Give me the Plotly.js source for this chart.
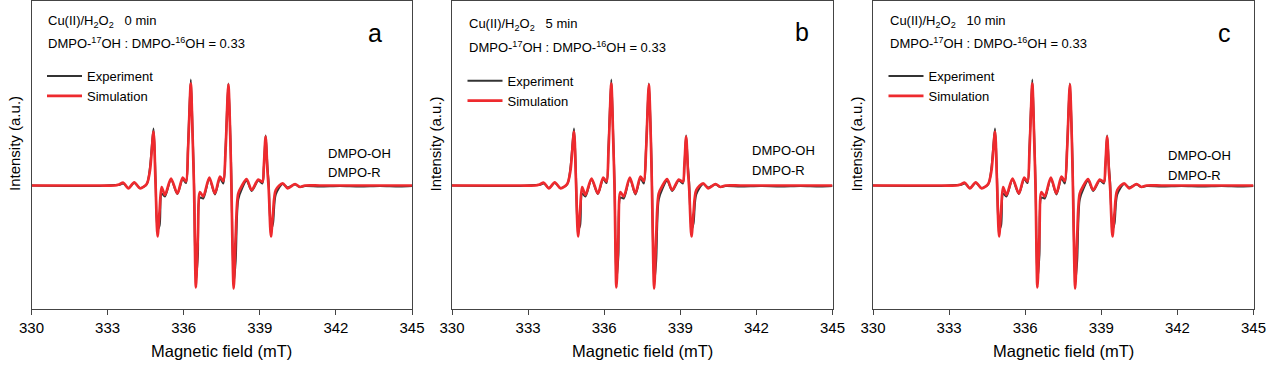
<!DOCTYPE html>
<html>
<head>
<meta charset="utf-8">
<script src="https://cdn.plot.ly/plotly-3.0.1.min.js"></script>
<style>html,body{margin:0;padding:0;background:#fff}#chart{width:1270px;height:366px}</style>
</head>
<body>
<div id="chart"></div>
<script>
// Magnetic field (mT), shared sampling grid
var field = [330.00,332.70,333.29,333.45,333.62,333.82,334.05,334.28,334.54,334.67,334.81,334.89,334.97,335.05,335.13,335.26,335.50,335.75,335.96,336.09,336.17,336.28,336.35,336.41,336.48,336.56,336.64,336.77,337.01,337.23,337.43,337.56,337.65,337.76,337.84,337.88,337.97,338.05,338.15,338.30,338.48,338.68,338.94,339.10,339.16,339.23,339.30,339.35,339.44,339.52,339.63,339.90,340.10,340.39,340.58,340.78,341.37,342.16,342.95,343.74,344.52,345.00];

var simA = [0,0,0,1,2.8,-2.8,3.2,-2.8,1.5,15,54,2,-51,-25,-1.5,-9.5,7,-8,8,4,35,102,50,-5,-102,-50,-6.5,-11,8,-8,9,4.5,35,101,45,0,-103,-50,-8,0,6.5,-4.5,6,3.5,20,49,15,-3,-51,-28,-4.5,2.2,-2.8,1.5,-1.5,0,0,0,0,0,0,0];
var expA = [0,-0.5,0.5,0.5,2,-2.5,2.5,-2.5,1,18,57,8,-44,-40,-8,-11,6,-8.5,6.5,2.5,40,106,55,0,-96,-70,-12,-13,7,-9,7,2,38,102,50,8,-98,-75,-14,-3,5,-5.5,5,2,18,50,20,3,-44,-38,-9,1.5,-2,1,-1.5,-0.5,-1,-0.5,-1,-0.5,-1,-0.5];
var simB = simA.slice();
var expB = expA.slice();
var simC = simA.slice();
var expC = expA.slice();

var panelLetters = ['a','b','c'];
var times = ['0 min','5 min','10 min'];
var tickVals = [330,333,336,339,342,345];
var xTitle = 'Magnetic field (mT)';
var yTitle = 'Intensity (a.u.)';
var speciesLabels = ['DMPO-OH','DMPO-R'];
var seriesNames = ['Experiment','Simulation'];

var W = 1270, H = 366;
var FONT = 'Arial, "Liberation Sans", sans-serif';
function px(x){return x/W;}
function py(y){return 1 - y/H;}
var offsets = [0, 420.5, 841.5];
var legendYs = [[76,95.7],[80.7,100],[76,95.7]];
var line1Ys = [21.7,25,21.7];
var line2Ys = [43.3,46.7,43.3];
var letterX = [375,381,382.5];
var letterY = [33,31.7,33];
var specX = [326,329.5,324.5];
var specY = [[153.3,172.7],[150,170],[155,175]];

var exps = [expA, expB, expC];
var sims = [simA, simB, simC];
var traces = [];
var layout = {
  width: W, height: H,
  margin: {l:0, r:0, t:0, b:0},
  paper_bgcolor: '#fff', plot_bgcolor: '#fff',
  font: {family: FONT, color: '#000', size: 13},
  showlegend: true,
  annotations: [],
  shapes: []
};

for (var i = 0; i < 3; i++) {
  var sfx = i === 0 ? '' : String(i+1);
  var off = offsets[i];
  var legName = i === 0 ? 'legend' : 'legend' + (i+1);
  traces.push({
    x: field, y: exps[i], type: 'scatter', mode: 'lines',
    name: seriesNames[0], legend: legName,
    line: {color: '#333333', width: 2, shape: 'spline', smoothing: 0.8},
    xaxis: 'x' + sfx, yaxis: 'y' + sfx
  });
  traces.push({
    x: field, y: sims[i], type: 'scatter', mode: 'lines',
    name: seriesNames[1], legend: legName,
    line: {color: '#ee2a2e', width: 2.7, shape: 'spline', smoothing: 0.8},
    xaxis: 'x' + sfx, yaxis: 'y' + sfx
  });
  layout['xaxis' + sfx] = {
    domain: [px(31.5 + off), px(412 + off)],
    range: [330, 345], anchor: 'y' + sfx,
    tickmode: 'array', tickvals: tickVals, ticktext: tickVals.map(String),
    ticks: 'outside', ticklen: 5, tickwidth: 1, tickcolor: '#444',
    showline: true, linecolor: '#444', linewidth: 1, mirror: true,
    showgrid: false, zeroline: false,
    tickfont: {family: FONT, size: 15, color: '#000'}
  };
  layout['yaxis' + sfx] = {
    domain: [py(309), py(1)],
    range: [-123.5, 184.5], anchor: 'x' + sfx,
    showticklabels: false, ticks: '',
    showline: true, linecolor: '#444', linewidth: 1, mirror: true,
    showgrid: false, zeroline: false
  };
  layout[legName] = {
    x: px(42 + off), y: py(legendYs[i][0] - 15), xanchor: 'left', yanchor: 'top',
    bgcolor: 'rgba(0,0,0,0)', borderwidth: 0,
    font: {family: FONT, size: 13, color: '#000'},
    itemwidth: 35, tracegroupgap: 0
  };
  var ann = layout.annotations;
  ann.push({xref:'paper', yref:'paper', x: px(46 + off), y: py(line1Ys[i]), xanchor:'left', yanchor:'middle', showarrow:false,
    text: 'Cu(II)/H<sub>2</sub>O<sub>2</sub>\u00a0\u00a0\u00a0' + times[i], font:{size:13}});
  ann.push({xref:'paper', yref:'paper', x: px(46 + off), y: py(line2Ys[i]), xanchor:'left', yanchor:'middle', showarrow:false,
    text: 'DMPO-<sup>17</sup>OH : DMPO-<sup>16</sup>OH = 0.33', font:{size:13}});
  ann.push({xref:'paper', yref:'paper', x: px(letterX[i] + off), y: py(letterY[i]), xanchor:'center', yanchor:'middle', showarrow:false,
    text: panelLetters[i], font:{size:25}});
  ann.push({xref:'paper', yref:'paper', x: px(specX[i] + off), y: py(specY[i][0]), xanchor:'left', yanchor:'middle', showarrow:false,
    text: speciesLabels[0], font:{size:13}});
  ann.push({xref:'paper', yref:'paper', x: px(specX[i] + off), y: py(specY[i][1]), xanchor:'left', yanchor:'middle', showarrow:false,
    text: speciesLabels[1], font:{size:13}});
  ann.push({xref:'paper', yref:'paper', x: px(221.7 + off), y: py(351), xanchor:'center', yanchor:'middle', showarrow:false,
    text: xTitle, font:{size:16.5}});
  ann.push({xref:'paper', yref:'paper', x: px(14 + off), y: py(144), xanchor:'center', yanchor:'middle', showarrow:false,
    text: yTitle, textangle: -90, font:{size:15}});
}

Plotly.newPlot('chart', traces, layout, {displayModeBar: false});
</script>
</body>
</html>
